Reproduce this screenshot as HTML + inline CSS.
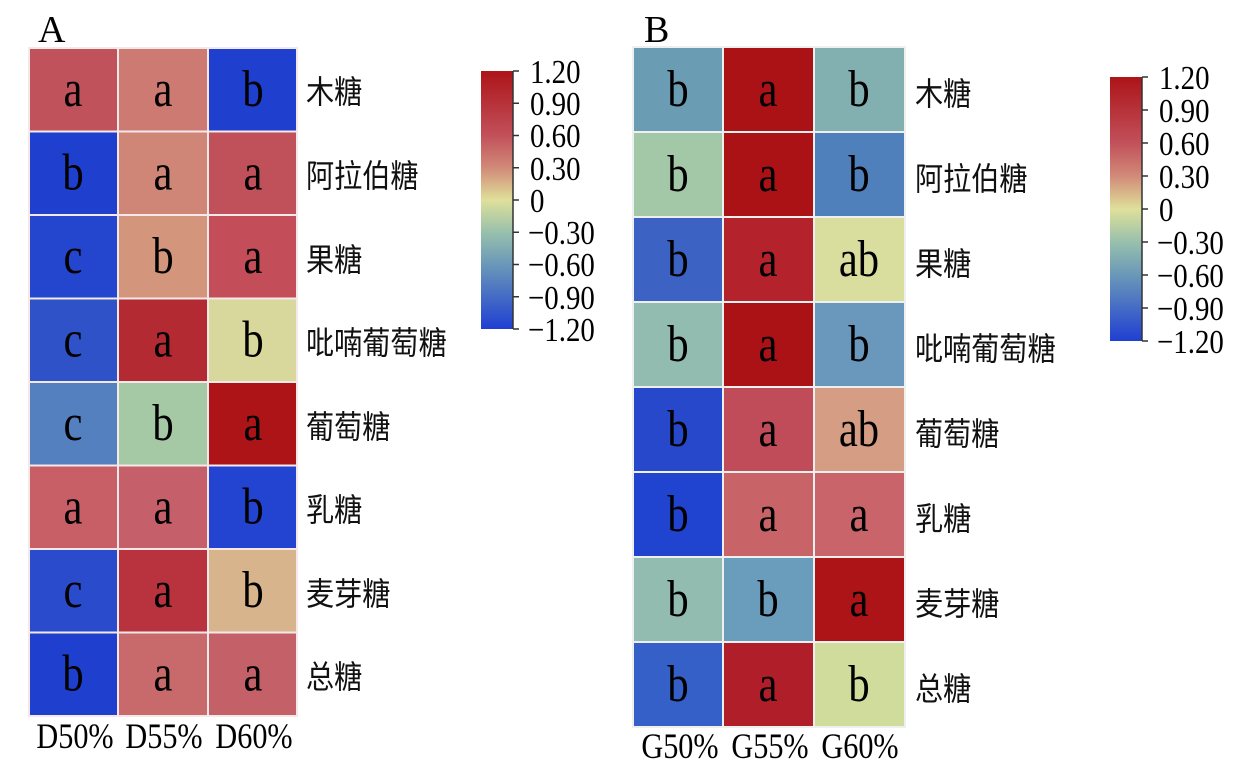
<!DOCTYPE html>
<html><head><meta charset="utf-8"><style>body{margin:0;background:#fff}svg{display:block}
.c text,.t text,.k text,.x text{transform-box:fill-box;transform-origin:center}
.c text{transform:scaleX(.82)}
.t text{transform:scaleX(.85)}
.k text{transform:scaleX(.88)}
.x text{transform:scaleX(.84)}
.t text,.k text{transform-origin:left center}
</style></head><body>
<svg width="1260" height="772" viewBox="0 0 1260 772" xmlns="http://www.w3.org/2000/svg">
<defs>
<linearGradient id="cb" x1="0" y1="0" x2="0" y2="1">
<stop offset="0" stop-color="#ac1418"/><stop offset="0.25" stop-color="#c2505a"/>
<stop offset="0.375" stop-color="#d18a78"/><stop offset="0.5" stop-color="#dfe09a"/>
<stop offset="0.625" stop-color="#98c0ac"/><stop offset="0.75" stop-color="#6a98b8"/>
<stop offset="1" stop-color="#1f3fd2"/></linearGradient></defs>
<g font-family="Liberation Serif, serif" fill="#000">
<text x="38" y="42" font-size="38">A</text>
<text x="644" y="42" font-size="38">B</text>
</g>
<g id="A" stroke="#f4e8e8" stroke-width="2">
<rect x="29" y="48" width="89" height="83.5" fill="#c0525c"/><rect x="118" y="48" width="90" height="83.5" fill="#cc7a72"/><rect x="208" y="48" width="89" height="83.5" fill="#1f3fcf"/>
<rect x="29" y="131.5" width="89" height="83.5" fill="#1f3fcf"/><rect x="118" y="131.5" width="90" height="83.5" fill="#cf8676"/><rect x="208" y="131.5" width="89" height="83.5" fill="#c0505a"/>
<rect x="29" y="215" width="89" height="83.5" fill="#2446cf"/><rect x="118" y="215" width="90" height="83.5" fill="#d3957c"/><rect x="208" y="215" width="89" height="83.5" fill="#c44d5a"/>
<rect x="29" y="298.5" width="89" height="83.5" fill="#2f52c8"/><rect x="118" y="298.5" width="90" height="83.5" fill="#b42a33"/><rect x="208" y="298.5" width="89" height="83.5" fill="#d9d89c"/>
<rect x="29" y="382" width="89" height="83.5" fill="#5580c0"/><rect x="118" y="382" width="90" height="83.5" fill="#a5c9a5"/><rect x="208" y="382" width="89" height="83.5" fill="#ac1418"/>
<rect x="29" y="465.5" width="89" height="83.5" fill="#c85e66"/><rect x="118" y="465.5" width="90" height="83.5" fill="#c5606a"/><rect x="208" y="465.5" width="89" height="83.5" fill="#2244d0"/>
<rect x="29" y="549" width="89" height="83.5" fill="#2a4ccc"/><rect x="118" y="549" width="90" height="83.5" fill="#b9333f"/><rect x="208" y="549" width="89" height="83.5" fill="#d8b48c"/>
<rect x="29" y="632.5" width="89" height="83.5" fill="#1f3fcf"/><rect x="118" y="632.5" width="90" height="83.5" fill="#c86a6c"/><rect x="208" y="632.5" width="89" height="83.5" fill="#c46168"/>
</g>
<g id="B" stroke="#eef0f0" stroke-width="2">
<rect x="633" y="47" width="90" height="85" fill="#6a9cb4"/><rect x="723" y="47" width="91" height="85" fill="#ab1216"/><rect x="814" y="47" width="91" height="85" fill="#82b0b0"/>
<rect x="633" y="132" width="90" height="85" fill="#a2c8a8"/><rect x="723" y="132" width="91" height="85" fill="#ab1216"/><rect x="814" y="132" width="91" height="85" fill="#5080bc"/>
<rect x="633" y="217" width="90" height="85" fill="#3c62c4"/><rect x="723" y="217" width="91" height="85" fill="#b4222c"/><rect x="814" y="217" width="91" height="85" fill="#d9de9e"/>
<rect x="633" y="302" width="90" height="85" fill="#92bcb0"/><rect x="723" y="302" width="91" height="85" fill="#ab1216"/><rect x="814" y="302" width="91" height="85" fill="#6a98bc"/>
<rect x="633" y="387" width="90" height="85" fill="#2848cc"/><rect x="723" y="387" width="91" height="85" fill="#c04c5a"/><rect x="814" y="387" width="91" height="85" fill="#d59e84"/>
<rect x="633" y="472" width="90" height="85" fill="#2044d0"/><rect x="723" y="472" width="91" height="85" fill="#c86468"/><rect x="814" y="472" width="91" height="85" fill="#c9646a"/>
<rect x="633" y="557" width="90" height="85" fill="#92bcb0"/><rect x="723" y="557" width="91" height="85" fill="#6a9cbc"/><rect x="814" y="557" width="91" height="85" fill="#ac1418"/>
<rect x="633" y="642" width="90" height="85" fill="#3560c8"/><rect x="723" y="642" width="91" height="85" fill="#b01e2a"/><rect x="814" y="642" width="91" height="85" fill="#d0dc9c"/>
</g>
<g class="c" font-family="Liberation Serif, serif" font-size="52" text-anchor="middle" fill="#000">
<g transform="translate(0,106)">
<text x="73" >a</text><text x="163">a</text><text x="253">b</text>
<text x="73" y="83.5">b</text><text x="163" y="83.5">a</text><text x="253" y="83.5">a</text>
<text x="73" y="167">c</text><text x="163" y="167">b</text><text x="253" y="167">a</text>
<text x="73" y="250.5">c</text><text x="163" y="250.5">a</text><text x="253" y="250.5">b</text>
<text x="73" y="334">c</text><text x="163" y="334">b</text><text x="253" y="334">a</text>
<text x="73" y="417.5">a</text><text x="163" y="417.5">a</text><text x="253" y="417.5">b</text>
<text x="73" y="501">c</text><text x="163" y="501">a</text><text x="253" y="501">b</text>
<text x="73" y="584.5">b</text><text x="163" y="584.5">a</text><text x="253" y="584.5">a</text>
</g>
<g transform="translate(0,106)">
<text x="678">b</text><text x="768">a</text><text x="859">b</text>
<text x="678" y="85">b</text><text x="768" y="85">a</text><text x="859" y="85">b</text>
<text x="678" y="170">b</text><text x="768" y="170">a</text><text x="859" y="170">ab</text>
<text x="678" y="255">b</text><text x="768" y="255">a</text><text x="859" y="255">b</text>
<text x="678" y="340">b</text><text x="768" y="340">a</text><text x="859" y="340">ab</text>
<text x="678" y="425">b</text><text x="768" y="425">a</text><text x="859" y="425">a</text>
<text x="678" y="510">b</text><text x="768" y="510">b</text><text x="859" y="510">a</text>
<text x="678" y="595">b</text><text x="768" y="595">a</text><text x="859" y="595">b</text>
</g>
</g>
<g class="k" font-family="Liberation Sans, Noto Sans CJK SC, sans-serif" font-size="32" fill="#111">
<text x="306" y="103">木糖</text><text x="306" y="187">阿拉伯糖</text><text x="306" y="271">果糖</text>
<text x="306" y="354">吡喃葡萄糖</text><text x="306" y="438">葡萄糖</text><text x="306" y="521">乳糖</text>
<text x="306" y="605">麦芽糖</text><text x="306" y="688">总糖</text>
<text x="915" y="105">木糖</text><text x="915" y="190">阿拉伯糖</text><text x="915" y="275">果糖</text>
<text x="915" y="360">吡喃葡萄糖</text><text x="915" y="445">葡萄糖</text><text x="915" y="530">乳糖</text>
<text x="915" y="615">麦芽糖</text><text x="915" y="700">总糖</text>
</g>
<g class="x" font-family="Liberation Serif, serif" font-size="36" text-anchor="middle">
<text x="75" y="748">D50%</text><text x="164" y="748">D55%</text><text x="254" y="748">D60%</text>
<text x="680" y="758">G50%</text><text x="770" y="758">G55%</text><text x="860" y="758">G60%</text>
</g>
<rect x="481" y="71" width="32" height="258" fill="url(#cb)"/>
<line x1="513" y1="71" x2="513" y2="329" stroke="#333" stroke-width="1.5"/>
<g stroke="#333" stroke-width="1.5">
<line x1="513" y1="71" x2="519" y2="71"/><line x1="513" y1="103.25" x2="519" y2="103.25"/><line x1="513" y1="135.5" x2="519" y2="135.5"/><line x1="513" y1="167.75" x2="519" y2="167.75"/><line x1="513" y1="200" x2="519" y2="200"/><line x1="513" y1="232.25" x2="519" y2="232.25"/><line x1="513" y1="264.5" x2="519" y2="264.5"/><line x1="513" y1="296.75" x2="519" y2="296.75"/><line x1="513" y1="329" x2="519" y2="329"/>
</g>
<g class="t" font-family="Liberation Serif, serif" font-size="34">
<text x="530" y="83">1.20</text><text x="530" y="115">0.90</text><text x="530" y="147">0.60</text><text x="530" y="180">0.30</text><text x="530" y="212">0</text>
<text x="528" y="244">−0.30</text><text x="528" y="276">−0.60</text><text x="528" y="309">−0.90</text><text x="528" y="341">−1.20</text>
</g>
<rect x="1110" y="77" width="32" height="264" fill="url(#cb)"/>
<line x1="1142" y1="77" x2="1142" y2="341" stroke="#333" stroke-width="1.5"/>
<g stroke="#333" stroke-width="1.5">
<line x1="1142" y1="77" x2="1148" y2="77"/><line x1="1142" y1="110" x2="1148" y2="110"/><line x1="1142" y1="143" x2="1148" y2="143"/><line x1="1142" y1="176" x2="1148" y2="176"/><line x1="1142" y1="209" x2="1148" y2="209"/><line x1="1142" y1="242" x2="1148" y2="242"/><line x1="1142" y1="275" x2="1148" y2="275"/><line x1="1142" y1="308" x2="1148" y2="308"/><line x1="1142" y1="341" x2="1148" y2="341"/>
</g>
<g class="t" font-family="Liberation Serif, serif" font-size="34">
<text x="1159" y="89">1.20</text><text x="1159" y="122">0.90</text><text x="1159" y="155">0.60</text><text x="1159" y="188">0.30</text><text x="1159" y="221">0</text>
<text x="1157" y="254">−0.30</text><text x="1157" y="287">−0.60</text><text x="1157" y="320">−0.90</text><text x="1157" y="353">−1.20</text>
</g>
</svg>
</body></html>
